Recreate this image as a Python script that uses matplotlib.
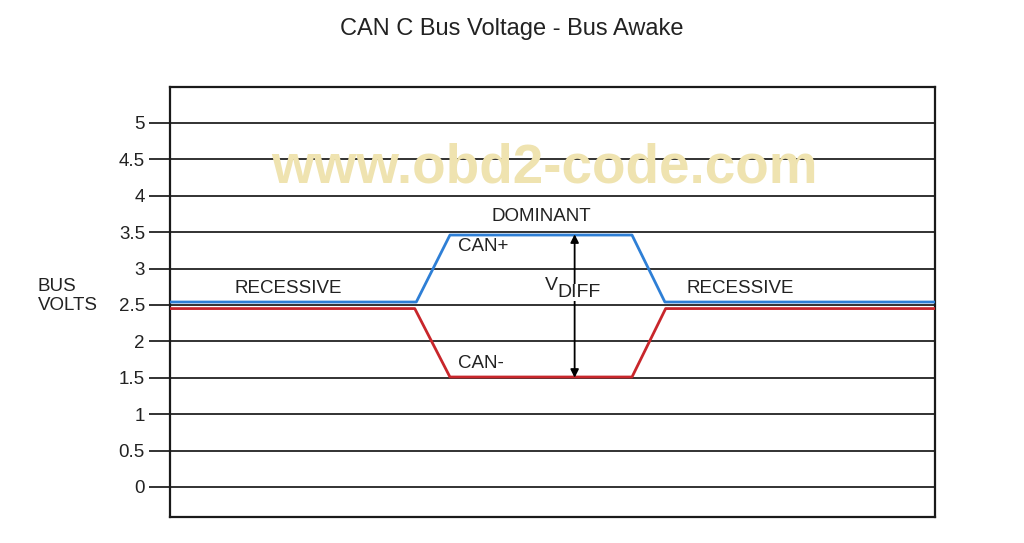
import matplotlib.pyplot as plt

plt.rcParams['font.family'] = ['Liberation Sans', 'DejaVu Sans']

# time axis (arbitrary units) and bus voltages
t_high = [0, 3.22, 3.66, 6.04, 6.47, 10]
can_high = [2.54, 2.54, 3.46, 3.46, 2.54, 2.54]
t_low = [0, 3.20, 3.66, 6.04, 6.48, 10]
can_low = [2.45, 2.45, 1.51, 1.51, 2.45, 2.45]
yticks = [0, 0.5, 1, 1.5, 2, 2.5, 3, 3.5, 4, 4.5, 5]
ytick_labels = ['0', '0.5', '1', '1.5', '2', '2.5', '3', '3.5', '4', '4.5', '5']

fig = plt.figure(figsize=(10.24, 5.43), dpi=100)
ax = fig.add_axes([0.166, 0.048, 0.747, 0.792])

for y in yticks:
    ax.axhline(y, color='#222222', lw=1.3, zorder=1)

ax.plot(t_high, can_high, color='#2e7fd6', lw=2, zorder=3)
ax.plot(t_low, can_low, color='#c8262b', lw=2, zorder=3)

ax.set_xlim(0, 10)
ax.set_ylim(-0.412, 5.495)
ax.set_xticks([])
ax.set_yticks(yticks)
ax.set_yticklabels(ytick_labels, fontsize=13.5, color='#222222')
ax.tick_params(axis='y', length=15, width=1.3, color='#222222', pad=3)
for s in ax.spines.values():
    s.set_linewidth(1.6)
    s.set_color('#1a1a1a')

# labels
ax.text(1.54, 2.73, 'RECESSIVE', fontsize=13.5, ha='center', va='center', color='#222222')
ax.text(7.46, 2.73, 'RECESSIVE', fontsize=13.5, ha='center', va='center', color='#222222')
ax.text(4.86, 3.71, 'DOMINANT', fontsize=13.5, ha='center', va='center', color='#222222')
ax.text(3.76, 3.30, 'CAN+', fontsize=13.5, ha='left', va='center', color='#222222')
ax.text(3.76, 1.69, 'CAN-', fontsize=13.5, ha='left', va='center', color='#222222')

# differential voltage arrow
ax.annotate('', xy=(5.29, 3.47), xytext=(5.29, 1.50),
            arrowprops=dict(arrowstyle='<|-|>', color='black', lw=1.3,
                            mutation_scale=12, shrinkA=0, shrinkB=0), zorder=4)
ax.text(4.90, 2.77, 'V', fontsize=14, ha='left', va='center', color='#222222', zorder=6)
ax.text(5.07, 2.67, 'DIFF', fontsize=14, ha='left', va='center', color='#222222', zorder=6,
        bbox=dict(facecolor='white', edgecolor='none', pad=0.3))

# watermark
ax.text(4.89, 4.38, 'www.obd2-code.com', fontsize=39.5, fontweight='bold',
        ha='center', va='center', color='#efe3b0', zorder=7)

fig.text(0.037, 0.455, 'BUS\nVOLTS', fontsize=13.5, ha='left', va='center',
         color='#222222', linespacing=1.15)
fig.suptitle('CAN C Bus Voltage - Bus Awake', fontsize=17, y=0.947, va='center', color='#222222')

fig.savefig('out.png', dpi=100)
